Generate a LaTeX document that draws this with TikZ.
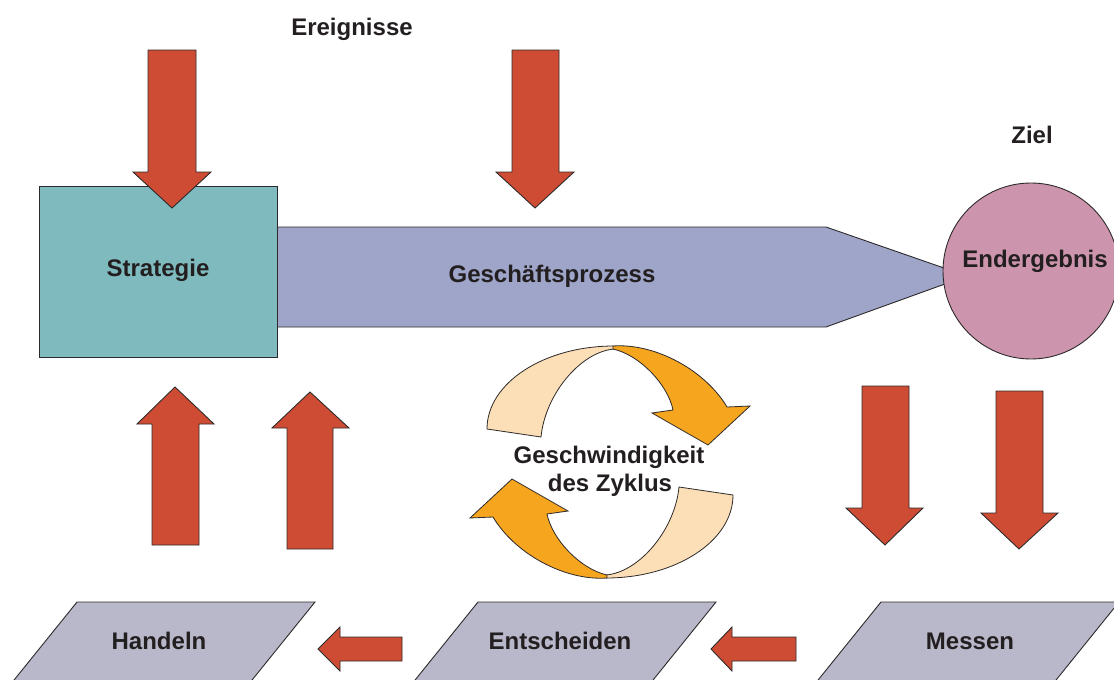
\documentclass[tikz,border=0pt]{standalone}
\usepackage{fontspec}
\setmainfont{Liberation Sans}
\definecolor{arrred}{HTML}{CF4C34}
\definecolor{edge}{HTML}{2E2A2B}
\definecolor{txt}{HTML}{231F20}
\definecolor{teal}{HTML}{7FBBBE}
\definecolor{proc}{HTML}{9EA5C9}
\definecolor{pink}{HTML}{CC95AD}
\definecolor{para}{HTML}{B8B8CA}
\definecolor{orng}{HTML}{F5A51E}
\definecolor{peach}{HTML}{FCDFB6}
\begin{document}
\begin{tikzpicture}[x=1pt,y=-1pt,
  lbl/.style={font=\fontsize{24}{29}\selectfont\bfseries, text=txt, anchor=base, inner sep=0pt},
  redarrow/.style={fill=arrred, draw=edge, line width=0.9pt, line join=miter},
  shapeline/.style={draw=edge, line width=0.9pt, line join=miter},
  ribbon/.style={draw=edge, line width=0.8pt, line join=miter}]
\useasboundingbox (0,0) rectangle (1114,680);
\clip (0,0) rectangle (1114,680);
\fill[white] (0,0) rectangle (1114,680);

% process arrow
\draw[shapeline, fill=proc] (277,227) -- (826,227) -- (967,276) -- (826,327) -- (277,327) -- cycle;
% strategy box
\node[shapeline, fill=teal, minimum width=238pt, minimum height=171pt, inner sep=0pt] (strat) at (158,272) {};
\node[lbl] (stratlbl) at (158,276) {Strategie};
\node[lbl] (proclbl) at (552,282) {Geschäftsprozess};
% result circle
\node[shapeline, fill=pink, circle, minimum size=176pt, inner sep=0pt] (result) at (1031,271) {};
\node[lbl] (resultlbl) at (1035,267) {Endergebnis};
\node[lbl] (ziel) at (1032,143) {Ziel};
\node[lbl] (events) at (352,35) {Ereignisse};

% top down arrows
\draw[redarrow] (148,50) -- (196,50) -- (196,172) -- (211,172) -- (172,208) -- (133,172) -- (148,172) -- cycle;
\draw[redarrow] (512,50) -- (559,50) -- (559,172) -- (574,172) -- (535,208) -- (496,172) -- (512,172) -- cycle;
% left up arrows
\draw[redarrow] (152,545) -- (199,545) -- (199,424) -- (214,424) -- (175,387) -- (137,424) -- (152,424) -- cycle;
\draw[redarrow] (287,549) -- (333,549) -- (333,428) -- (349,428) -- (310,392) -- (272,428) -- (287,428) -- cycle;
% right down arrows
\draw[redarrow] (862,386) -- (909,386) -- (909,508) -- (923,508) -- (885,545) -- (846,508) -- (862,508) -- cycle;
\draw[redarrow] (996,391) -- (1043,391) -- (1043,513) -- (1058,513) -- (1019,549) -- (981,513) -- (996,513) -- cycle;

% bottom parallelograms
\draw[shapeline, fill=para] (77,602) -- (315,602) -- (244,690) -- (6,690) -- cycle;
\draw[shapeline, fill=para] (478,602) -- (716,602) -- (645,690) -- (407,690) -- cycle;
\draw[shapeline, fill=para] (881,602) -- (1119,602) -- (1048,690) -- (810,690) -- cycle;
\node[lbl] (act) at (159,649) {Handeln};
\node[lbl] (decide) at (560,649) {Entscheiden};
\node[lbl] (measure) at (970,649) {Messen};

% left arrows
\draw[redarrow] (402,637) -- (402,661) -- (340,661) -- (340,671) -- (318,649) -- (340,627) -- (340,637) -- cycle;
\draw[redarrow] (796,637) -- (796,661) -- (732,661) -- (732,671) -- (711,649) -- (732,627) -- (732,637) -- cycle;

% cycle arrows
\foreach \r in {0,180}{
\begin{scope}[rotate around={\r:(610,462)}]
  \draw[ribbon, fill=peach] (487,429) .. controls (487,383) and (544,346) .. (614,346)
     -- (614,349) .. controls (580,352) and (545,395) .. (541,437) -- cycle;
  \draw[ribbon, fill=orng] (613,346) .. controls (655,343) and (705,370) .. (727,407)
     -- (750,406) -- (708,445) -- (652,413) -- (673,410)
     .. controls (668,385) and (640,355) .. (613,349) -- cycle;
\end{scope}}
\node[lbl] (speed1) at (609,463) {Geschwindigkeit};
\node[lbl] (speed2) at (610,491) {des Zyklus};
\end{tikzpicture}
\end{document}
